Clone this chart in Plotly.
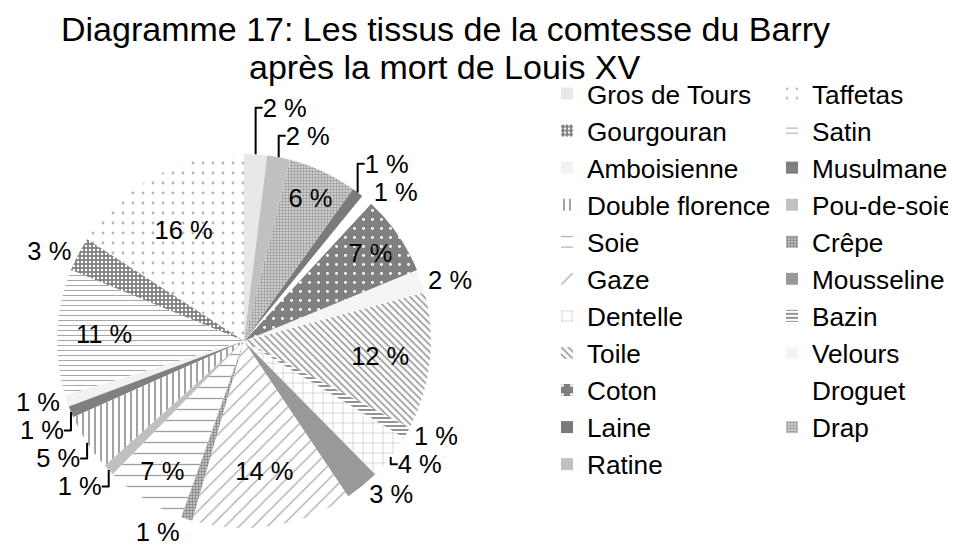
import plotly.graph_objects as go

# Data (in order of the legend; slices run counter-clockwise from 12 o'clock)
tissus = ["Gros de Tours", "Taffetas", "Gourgouran", "Satin", "Amboisienne",
          "Musulmane", "Double florence", "Pou-de-soie", "Soie", "Crêpe",
          "Gaze", "Mousseline", "Dentelle", "Bazin", "Toile", "Velours",
          "Coton", "Droguet", "Laine", "Drap", "Ratine"]
parts = [2, 16, 3, 11, 1, 1, 5, 1, 7, 1, 14, 3, 4, 1, 12, 2, 7, 1, 1, 6, 2]

title_lines = ["Diagramme 17: Les tissus de la comtesse du Barry",
               "après la mort de Louis XV"]

# Styles (grey patterns, one per fabric)
base_colors = ["#e8e8e8", "#ffffff", "#808080", "#ffffff", "#f2f2f2",
               "#808080", "#ffffff", "#c0c0c0", "#ffffff", "#c0c0c0",
               "#ffffff", "#999999", "#ffffff", "#ffffff", "#ffffff", "#f5f5f5",
               "#808080", "#ffffff", "#7a7a7a", "#dcdcdc", "#c0c0c0"]
pat_shapes = ["", ".", ".", "-", "", "", "|", "", "-", ".", "/", "", "+", "-",
              "\\", "", ".", "", "", ".", ""]
pat_fg = ["#e8e8e8", "#b4b4b4", "#ffffff", "#a8a8a8", "#f2f2f2", "#808080",
          "#999999", "#c0c0c0", "#a0a0a0", "#808080", "#a8a8a8", "#999999",
          "#b4b4b4", "#888888", "#a0a0a0", "#f5f5f5", "#ffffff", "#ffffff",
          "#7a7a7a", "#9a9a9a", "#c0c0c0"]
pat_bg = ["#e8e8e8", "#ffffff", "#808080", "#ffffff", "#f2f2f2", "#808080",
          "#ffffff", "#c0c0c0", "#ffffff", "#d0d0d0", "#ffffff", "#999999",
          "#ffffff", "#ffffff", "#ffffff", "#f5f5f5", "#808080", "#ffffff",
          "#7a7a7a", "#dcdcdc", "#c0c0c0"]
pat_size = [8, 10, 4, 5, 8, 8, 6, 8, 11, 3, 10, 8, 10, 4, 5, 8, 9, 8, 8, 3, 8]
pat_sol = [0.3, 0.06, 0.3, 0.2, 0.3, 0.3, 0.3, 0.3, 0.12, 0.5, 0.12, 0.3,
           0.1, 0.45, 0.35, 0.3, 0.08, 0.3, 0.3, 0.5, 0.3]
positions = ["outside", "inside", "outside", "inside", "outside", "outside",
             "outside", "outside", "inside", "outside", "inside", "outside",
             "outside", "outside", "inside", "outside", "inside", "outside",
             "outside", "inside", "outside"]

labels_txt = [f"{v} %" for v in parts]
FONT = "Liberation Sans, Arial, sans-serif"

fig = go.Figure(go.Pie(
    labels=tissus,
    values=parts,
    text=labels_txt,
    textinfo="text",
    textposition=positions,
    insidetextorientation="horizontal",
    sort=False,
    direction="counterclockwise",
    rotation=0,
    hole=0,
    marker=dict(
        colors=base_colors,
        line=dict(width=0),
        pattern=dict(shape=pat_shapes, fgcolor=pat_fg, bgcolor=pat_bg,
                     size=pat_size, solidity=pat_sol, fillmode="replace"),
    ),
    textfont=dict(family=FONT, size=25.5, color="#000000"),
    insidetextfont=dict(family=FONT, size=25.5, color="#000000"),
    outsidetextfont=dict(family=FONT, size=25.5, color="#000000"),
    domain=dict(x=[49 / 556, 423 / 556], y=[38 / 558, 412 / 558]),
))

annots = []
for i, line in enumerate(title_lines):
    annots.append(dict(
        text=line, xref="paper", yref="paper",
        x=437 / 556, y=1 - (21 + 38 * i) / 558,
        xanchor="center", yanchor="middle", showarrow=False,
        font=dict(family=FONT, size=34, color="#000000"),
    ))

fig.update_layout(
    width=956, height=558,
    margin=dict(l=0, r=400, t=0, b=0, autoexpand=False),
    paper_bgcolor="#ffffff",
    plot_bgcolor="#ffffff",
    font=dict(family=FONT, color="#000000"),
    annotations=annots,
    showlegend=True,
    legend=dict(
        orientation="h",
        entrywidth=180, entrywidthmode="pixels",
        x=539 / 556, xanchor="left",
        y=1 - 62 / 558, yanchor="top",
        maxheight=520,
        font=dict(family=FONT, size=26.2, color="#000000"),
        bgcolor="rgba(0,0,0,0)",
        traceorder="normal",
        itemclick=False,
    ),
)

fig.write_html("out.html")
